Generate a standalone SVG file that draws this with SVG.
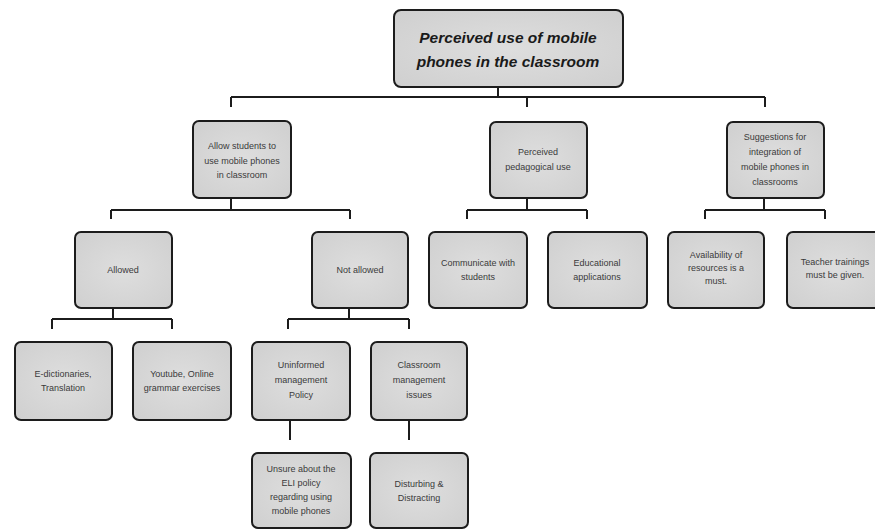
<svg xmlns="http://www.w3.org/2000/svg" width="875" height="529" viewBox="0 0 875 529">
<defs>
<radialGradient id="g" cx="50%" cy="50%" r="70%">
<stop offset="0" stop-color="#dedede"/>
<stop offset="1" stop-color="#cfcfcf"/>
</radialGradient>
</defs>
<style>
.box{fill:url(#g);stroke:#1c1c1c;stroke-width:2}
.t{font-family:"Liberation Sans",Arial,sans-serif;font-size:9px;fill:#3a3a3a;text-anchor:middle}
.title{font-family:"Liberation Sans",Arial,sans-serif;font-size:15.5px;font-weight:bold;font-style:italic;fill:#1a1a1a;text-anchor:middle}
.c{stroke:#1c1c1c;stroke-width:2;fill:none}
</style>
<rect width="875" height="529" fill="#ffffff"/>
<g id="connectors">
<path class="c" d="M498 87V97M231 97H765M231 97V107M527 97V107M765 97V107"/>
<path class="c" d="M231 198V210M111 210H350M111 210V219M350 210V219"/>
<path class="c" d="M527 198V210M467 210H587M467 210V219M587 210V219"/>
<path class="c" d="M764 198V210M705 210H825M705 210V219M825 210V219"/>
<path class="c" d="M113 308V319M52 319H172M52 319V329M172 319V329"/>
<path class="c" d="M349 308V319M288 319H409M288 319V329M409 319V329"/>
<path class="c" d="M290 420V440M409 420V440"/>
</g>
<g id="root">
<rect class="box" x="394" y="10" width="229" height="77" rx="7"/>
<text class="title" x="508" y="43">Perceived use of mobile</text>
<text class="title" x="508" y="67">phones in the classroom</text>
</g>
<g id="allow">
<rect class="box" x="193" y="121" width="98" height="77" rx="6"/>
<text class="t" x="242" y="149">Allow students to</text>
<text class="t" x="242" y="164">use mobile phones</text>
<text class="t" x="242" y="178">in classroom</text>
</g>
<g id="pedagogical">
<rect class="box" x="490" y="122" width="97" height="76" rx="6"/>
<text class="t" x="538" y="155">Perceived</text>
<text class="t" x="538" y="170">pedagogical use</text>
</g>
<g id="suggestions">
<rect class="box" x="727" y="122" width="97" height="76" rx="6"/>
<text class="t" x="775" y="140">Suggestions for</text>
<text class="t" x="775" y="155">integration of</text>
<text class="t" x="775" y="170">mobile phones in</text>
<text class="t" x="775" y="185">classrooms</text>
</g>
<g id="allowed">
<rect class="box" x="75" y="232" width="97" height="76" rx="6"/>
<text class="t" x="123" y="273">Allowed</text>
</g>
<g id="notallowed">
<rect class="box" x="312" y="232" width="96" height="76" rx="6"/>
<text class="t" x="360" y="273">Not allowed</text>
</g>
<g id="communicate">
<rect class="box" x="429" y="232" width="98" height="76" rx="6"/>
<text class="t" x="478" y="266">Communicate with</text>
<text class="t" x="478" y="280">students</text>
</g>
<g id="educational">
<rect class="box" x="548" y="232" width="99" height="76" rx="6"/>
<text class="t" x="597" y="266">Educational</text>
<text class="t" x="597" y="280">applications</text>
</g>
<g id="availability">
<rect class="box" x="668" y="232" width="96" height="76" rx="6"/>
<text class="t" x="716" y="258">Availability of</text>
<text class="t" x="716" y="271">resources is a</text>
<text class="t" x="716" y="284">must.</text>
</g>
<g id="teacher">
<rect class="box" x="787" y="232" width="97" height="76" rx="6"/>
<text class="t" x="835" y="265">Teacher trainings</text>
<text class="t" x="835" y="278">must be given.</text>
</g>
<g id="edict">
<rect class="box" x="15" y="342" width="97" height="78" rx="6"/>
<text class="t" x="63" y="377">E-dictionaries,</text>
<text class="t" x="63" y="391">Translation</text>
</g>
<g id="youtube">
<rect class="box" x="133" y="342" width="98" height="78" rx="6"/>
<text class="t" x="182" y="377">Youtube, Online</text>
<text class="t" x="182" y="391">grammar exercises</text>
</g>
<g id="uninformed">
<rect class="box" x="252" y="342" width="98" height="78" rx="6"/>
<text class="t" x="301" y="368">Uninformed</text>
<text class="t" x="301" y="383">management</text>
<text class="t" x="301" y="398">Policy</text>
</g>
<g id="classroom">
<rect class="box" x="371" y="342" width="96" height="78" rx="6"/>
<text class="t" x="419" y="368">Classroom</text>
<text class="t" x="419" y="383">management</text>
<text class="t" x="419" y="398">issues</text>
</g>
<g id="unsure">
<rect class="box" x="252" y="453" width="99" height="75" rx="6"/>
<text class="t" x="301" y="472">Unsure about the</text>
<text class="t" x="301" y="486">ELI policy</text>
<text class="t" x="301" y="500">regarding using</text>
<text class="t" x="301" y="514">mobile phones</text>
</g>
<g id="disturbing">
<rect class="box" x="370" y="453" width="98" height="75" rx="6"/>
<text class="t" x="419" y="487">Disturbing &amp;</text>
<text class="t" x="419" y="501">Distracting</text>
</g>
</svg>
